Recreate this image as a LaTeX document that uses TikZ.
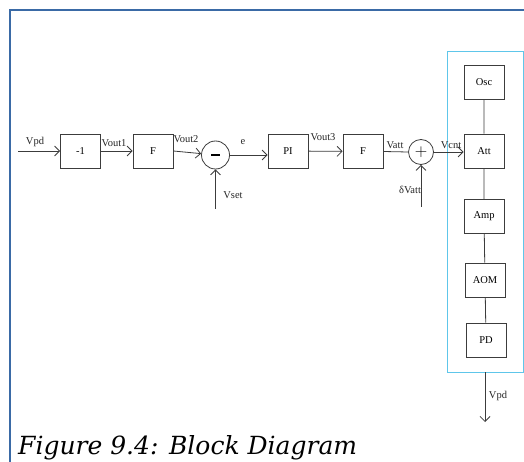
\documentclass[tikz,border=0pt]{standalone}
\usepackage{fontspec}
\setmainfont{Liberation Serif}
\newfontfamily\capfont{DejaVu Serif}
\usetikzlibrary{arrows.meta,positioning}
\definecolor{frameblue}{HTML}{3A6AA6}
\definecolor{lasercyan}{HTML}{5EC6EA}
\definecolor{wiregray}{HTML}{3C3C3C}

\begin{document}
\begin{tikzpicture}[x=1pt,y=-1pt,font=\fontsize{10.5}{12}\selectfont,
  blk/.style={draw=wiregray,line width=.8pt,minimum width=40pt,minimum height=34pt,inner sep=0pt},
  sum/.style={draw=wiregray,line width=.8pt,circle,minimum size=#1,inner sep=0pt},
  sig/.style={draw=wiregray,line width=.8pt,-{Straight Barb[length=5pt,width=10pt]}},
  wire/.style={draw=wiregray,line width=.8pt},
  lbl/.style={inner sep=1pt,text=black!85}]
\useasboundingbox (0,0) rectangle (524,462);
% page frame
\draw[frameblue,line width=2pt] (10,462) -- (10,10) -- (524,10);
% forward path
\coordinate (vin) at (18,151);
\node[blk] (inv) at (80.5,151) {-1};
\node[blk] (filt1) at (153,151) {F};
\node[sum=28pt] (diff) at (215.5,155) {\rule{9pt}{2.4pt}};
\coordinate (vset) at (215.5,209);
\node[blk] (pi) at (288,151) {PI};
\node[blk] (filt2) at (363,151.5) {F};
\node[sum=25pt,font=\fontsize{16}{16}\selectfont] (add) at (421,152) {$+$};
\coordinate (dvatt) at (421,207);
% laser system
\node[draw=lasercyan,line width=.8pt,minimum width=76pt,minimum height=321pt,inner sep=0pt] (laser) at (485,211.5) {};
\node[blk] (osc) at (484,82) {Osc};
\node[blk] (att) at (484,151) {Att};
\node[blk] (amp) at (484,216.5) {Amp};
\node[blk] (aom) at (485,280) {AOM};
\node[blk] (pd) at (486,340) {PD};
\coordinate (vout) at (485,422);
% connectors
\draw[sig] (vin) -- (inv);
\draw[sig] (inv) -- (filt1);
\draw[sig] (filt1.east) -- (diff);
\draw[sig] (vset) -- (diff);
\draw[sig] (diff.east) -- (pi.west |- diff.east);
\draw[sig] (pi) -- (filt2);
\draw[wire] (filt2.east) -- (add.west);
\draw[sig] (dvatt) -- (add);
\draw[sig] (add.east) -- (att.west |- add.east);
\draw[wire] (osc) -- (att) -- (amp) -- (aom) -- (pd);
\draw[sig] (laser.south) -- (vout);
% labels
\node[lbl] at (35,142) {Vpd};
\node[lbl] at (114,143) {Vout1};
\node[lbl] at (186,139) {Vout2};
\node[lbl] at (243,142) {e};
\node[lbl] at (323,137) {Vout3};
\node[lbl] at (395,145) {Vatt};
\node[lbl] at (451,145) {Vcnt};
\node[lbl] at (233,195) {Vset};
\node[lbl] at (410,190) {δVatt};
\node[lbl] at (498,396) {Vpd};
% caption
\node[anchor=base west,inner sep=0pt,font=\capfont\fontsize{25}{30}\selectfont\itshape] (cap) at (18,454) {Figure 9.4: Block Diagram};
\end{tikzpicture}
\end{document}
